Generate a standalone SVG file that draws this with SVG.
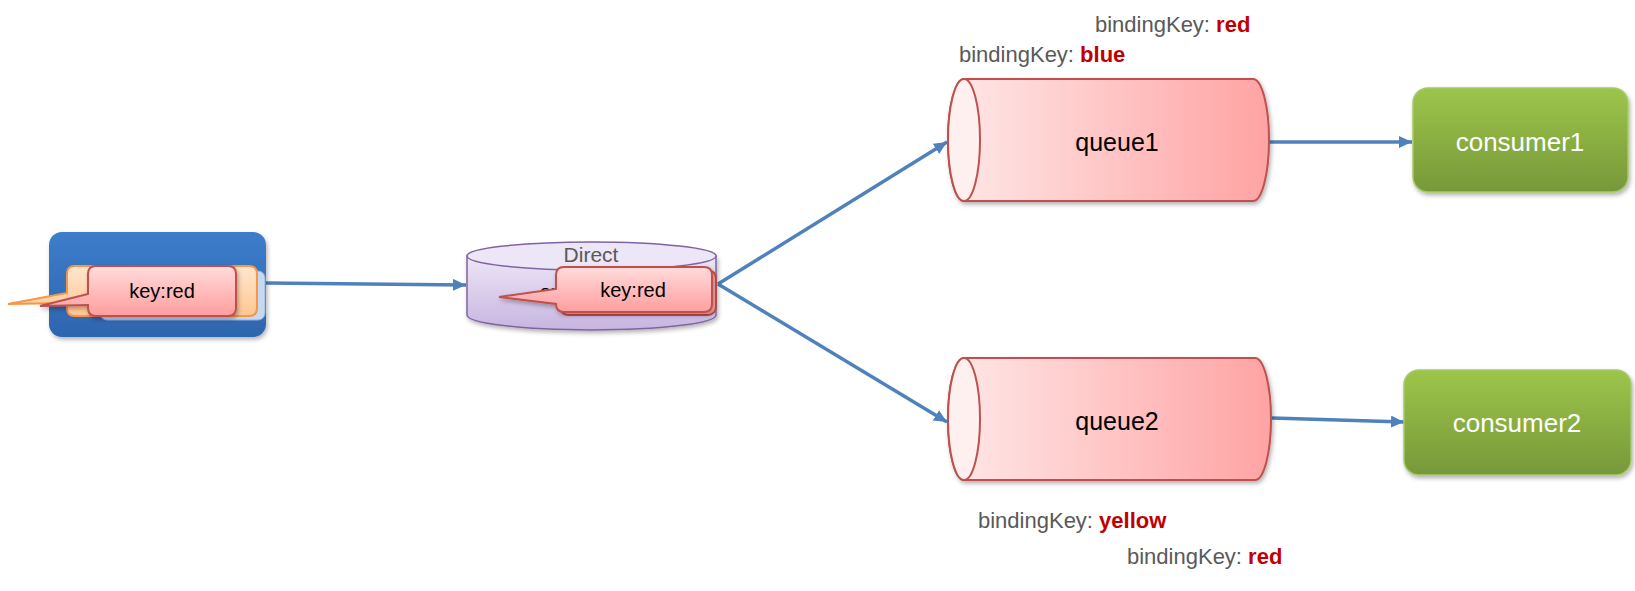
<svg xmlns="http://www.w3.org/2000/svg" width="1635" height="591" viewBox="0 0 1635 591">
<defs>
<style>
.lbl{font-family:"Liberation Sans",Arial,sans-serif;fill:#595959;font-size:22px}
.red{fill:#C00000;font-weight:bold}
.conn{stroke:#4F81BD;stroke-width:3.5;fill:none}
.qtxt{font-family:"Liberation Sans",Arial,sans-serif;font-size:25px;fill:#000;text-anchor:middle}
.ctxt{font-family:"Liberation Sans",Arial,sans-serif;font-size:26px;fill:#fff;text-anchor:middle}
.ktxt{font-family:"Liberation Sans",Arial,sans-serif;font-size:20px;fill:#000;text-anchor:middle}
.queue{stroke:#C0504D;stroke-width:2;fill:url(#qgrad)}
.qend{stroke:#C0504D;stroke-width:2;fill:#FFF0F0}
.cons{fill:url(#cgrad);stroke:#A6C96A;stroke-width:1.5}
.callout{fill:url(#kgrad);stroke:#C0504D;stroke-width:2}
</style>
<linearGradient id="qgrad" x1="0" y1="0" x2="1" y2="0">
<stop offset="0" stop-color="#FFE8E8"/><stop offset="1" stop-color="#FFA3A3"/>
</linearGradient>
<linearGradient id="cgrad" x1="0" y1="0" x2="0" y2="1">
<stop offset="0" stop-color="#9DC54B"/><stop offset="1" stop-color="#779839"/>
</linearGradient>
<linearGradient id="kgrad" x1="0" y1="0" x2="0" y2="1">
<stop offset="0" stop-color="#FFDCDC"/><stop offset="1" stop-color="#FF9E9E"/>
</linearGradient>
<linearGradient id="ograd" x1="0" y1="0" x2="0" y2="1">
<stop offset="0" stop-color="#FFE6CE"/><stop offset="1" stop-color="#FFC792"/>
</linearGradient>
<linearGradient id="pgrad" x1="0" y1="0" x2="0" y2="1">
<stop offset="0" stop-color="#3D7DCB"/><stop offset="1" stop-color="#2E65AE"/>
</linearGradient>
<linearGradient id="xgrad" x1="0" y1="0" x2="0" y2="1">
<stop offset="0" stop-color="#EDE6F6"/><stop offset="1" stop-color="#C7B5E0"/>
</linearGradient>
<filter id="sh" x="-10%" y="-10%" width="125%" height="130%">
<feDropShadow dx="1.5" dy="2.5" stdDeviation="2" flood-color="#000" flood-opacity="0.3"/>
</filter>
<marker id="arr" markerUnits="userSpaceOnUse" markerWidth="14" markerHeight="12" refX="13" refY="6" orient="auto">
<path d="M0,0 L13,6 L0,12 z" fill="#4F81BD"/>
</marker>
</defs>
<rect width="1635" height="591" fill="#fff"/>

<g id="connectors">
<path class="conn" d="M266,283 L466,285" marker-end="url(#arr)"/>
<path class="conn" d="M718,284 L947,142" marker-end="url(#arr)"/>
<path class="conn" d="M718,284 L947,422" marker-end="url(#arr)"/>
<path class="conn" d="M1269,142 L1412,142" marker-end="url(#arr)"/>
<path class="conn" d="M1272,418 L1404,422" marker-end="url(#arr)"/>
</g>

<g id="publisher">
<rect x="49" y="232" width="217" height="105" rx="13" fill="url(#pgrad)" filter="url(#sh)"/>
<rect x="100" y="271" width="165" height="49" rx="7" fill="#C6D9F1" stroke="#8EB4E3" stroke-width="1"/>
<path d="M75,266 L249,266 Q257,266 257,274 L257,308 Q257,316 249,316 L75,316 Q67,316 67,308 L67,303 L8,304 L67,293 L67,274 Q67,266 75,266 Z" fill="url(#ograd)" stroke="#F79646" stroke-width="2"/>
<path class="callout" d="M96,266 L228,266 Q236,266 236,274 L236,308 Q236,316 228,316 L96,316 Q88,316 88,308 L88,305 L40,306 L88,294 L88,274 Q88,266 96,266 Z" filter="url(#sh)"/>
<text class="ktxt" x="162" y="298">key:red</text>
</g>

<g id="exchange">
<path d="M467,256 L467,315 A124.5,15 0 0 0 716,315 L716,256 Z" fill="url(#xgrad)" stroke="#8064A2" stroke-width="1.5" filter="url(#sh)"/>
<ellipse cx="591.5" cy="256" rx="124.5" ry="14" fill="#EDE6F6" stroke="#8064A2" stroke-width="1.5"/>
<text x="591" y="262" font-family="Liberation Sans, Arial, sans-serif" font-size="21" fill="#595959" text-anchor="middle">Direct</text>
<text x="585" y="299" font-family="Liberation Sans, Arial, sans-serif" font-size="21" fill="#000" text-anchor="middle">exchange</text>
<rect x="560" y="270" width="156" height="45" rx="8" fill="#FFB3B3" stroke="#C0504D" stroke-width="2"/>
<path class="callout" d="M564,267 L704,267 Q712,267 712,275 L712,304 Q712,312 704,312 L564,312 Q556,312 556,304 L556,304 L499,297 L556,289 L556,275 Q556,267 564,267 Z" filter="url(#sh)"/>
<text class="ktxt" x="633" y="297">key:red</text>
</g>

<g id="queue1">
<path class="queue" d="M964,79 L1253,79 A16,61 0 0 1 1253,201 L964,201 A16,61 0 0 1 964,79 Z" filter="url(#sh)"/>
<ellipse class="qend" cx="964" cy="140" rx="16" ry="61"/>
<text class="qtxt" x="1117" y="151">queue1</text>
</g>

<g id="queue2">
<path class="queue" d="M964,358 L1255,358 A16,61 0 0 1 1255,480 L964,480 A16,61 0 0 1 964,358 Z" filter="url(#sh)"/>
<ellipse class="qend" cx="964" cy="419" rx="16" ry="61"/>
<text class="qtxt" x="1117" y="430">queue2</text>
</g>

<g id="consumer1">
<rect class="cons" x="1413" y="88" width="215" height="104" rx="15" filter="url(#sh)"/>
<text class="ctxt" x="1520" y="151">consumer1</text>
</g>

<g id="consumer2">
<rect class="cons" x="1404" y="370" width="227" height="105" rx="15" filter="url(#sh)"/>
<text class="ctxt" x="1517" y="432">consumer2</text>
</g>

<g id="labels">
<text class="lbl" x="1095" y="32">bindingKey: <tspan class="red">red</tspan></text>
<text class="lbl" x="959" y="62">bindingKey: <tspan class="red">blue</tspan></text>
<text class="lbl" x="978" y="528">bindingKey: <tspan class="red">yellow</tspan></text>
<text class="lbl" x="1127" y="564">bindingKey: <tspan class="red">red</tspan></text>
</g>
</svg>
